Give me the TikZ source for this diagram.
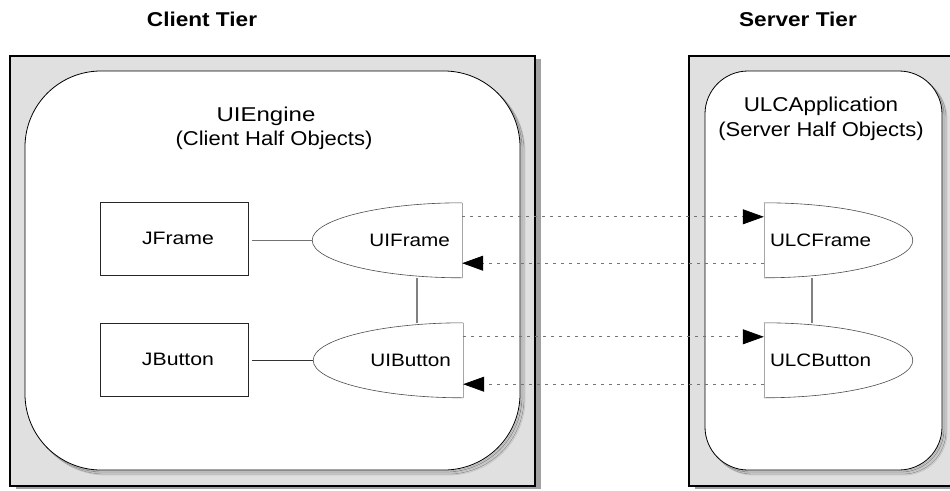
\documentclass[tikz,border=0pt]{standalone}
\usepackage{graphicx}
\usepackage{fontspec}
\setmainfont{Liberation Sans}
\usetikzlibrary{arrows.meta}

% widened lettering for the labels
\newcommand{\wtext}[2][1.1]{\scalebox{#1}[1]{#2}}

\tikzset{
  tier/.style={font=\fontsize{20}{23}\selectfont\bfseries, inner sep=0pt},
  boxtitle/.style={font=\fontsize{20}{24}\selectfont, inner sep=0pt},
  swingbox/.style={draw=black!85, line width=0.7pt, fill=white,
    minimum width=148pt, minimum height=73pt, inner sep=0pt,
    font=\fontsize{18}{22}\selectfont},
  halfleft/.style={minimum width=150pt, minimum height=75pt, inner ysep=0pt,
    inner xsep=12pt, text width=126pt, align=right,
    font=\fontsize{18}{22}\selectfont},
  halfright/.style={minimum width=149pt, minimum height=75pt, inner ysep=0pt,
    inner xsep=6pt, text width=137pt, align=left,
    font=\fontsize{18}{22}\selectfont},
  curveedge/.style={fill=white, draw=black!70, line width=0.6pt},
  flatedge/.style={draw=black!35, line width=0.6pt},
  msg/.style={black!55, line width=0.7pt, dash pattern=on 3pt off 5pt,
    -{Triangle[length=21pt, width=15pt, color=black]}},
  outerbox/.style={fill=black!12, draw=black, line width=1.4pt},
  outershadow/.style={fill=black!37},
  innerbox/.style={fill=white, draw=black, line width=0.8pt},
}

\begin{document}
\begin{tikzpicture}[x=1pt, y=-1pt]
\useasboundingbox (0,0) rectangle (950,490);

% ---- tier frames ----
\fill[outershadow] (16,59) rectangle (541,489);
\draw[outerbox] (10,56) rectangle (535,486);
\fill[outershadow] (695,59) rectangle (963,489);
\draw[outerbox] (689,56) rectangle (957,486);

% ---- rounded containers with stepped shadow ----
\foreach \d/\c in {5/black!22, 4/black!40, 3/black!25, 2/black!45, 1/black!30} {
  \draw[\c, line width=0.8pt, rounded corners=76pt] (25+\d,71+\d) rectangle (520+\d,470+\d);
  \draw[\c, line width=0.8pt, rounded corners=43pt] (705+\d,71+\d) rectangle (942+\d,470+\d);
}
\draw[innerbox, rounded corners=76pt] (25,71) rectangle (520,470);
\draw[innerbox, rounded corners=43pt] (705,71) rectangle (942,470);

% ---- titles ----
\node[tier] (clienttier) at (202,19) {\wtext[1.13]{Client Tier}};
\node[tier] (servertier) at (798,19) {\wtext[1.13]{Server Tier}};
\node[boxtitle] (uiengine) at (266,116) {\wtext[1.2]{UIEngine}};
\node[boxtitle] (clienthalf) at (274,140) {\wtext{(Client Half Objects)}};
\node[boxtitle] (ulcapp) at (821,106) {\wtext[1.12]{ULCApplication}};
\node[boxtitle] (serverhalf) at (821,131) {\wtext{(Server Half Objects)}};

% ---- Swing widgets ----
\node[swingbox] (jframe) at (174,238.5) {\hspace*{8pt}\wtext[1.18]{JFrame}};
\node[swingbox] (jbutton) at (174,359.5) {\hspace*{8pt}\wtext[1.18]{JButton}};

% ---- client half objects ----
\node[halfleft] (uiframe) at (387,240.5) {};
\node[halfleft] (uibutton) at (388,360.5) {};
\path[curveedge] (uiframe.north east) arc[start angle=90, end angle=270, x radius=150pt, y radius=37.5pt];
\draw[flatedge] (uiframe.north east) -- (uiframe.south east);
\path[curveedge] (uibutton.north east) arc[start angle=90, end angle=270, x radius=150pt, y radius=37.5pt];
\draw[flatedge] (uibutton.north east) -- (uibutton.south east);
\node[halfleft] at (uiframe) {\wtext[1.15]{UIFrame}};
\node[halfleft] at (uibutton) {\wtext[1.15]{UIButton}};

% ---- server half objects ----
\node[halfright] (ulcframe) at (838.5,240.5) {};
\node[halfright] (ulcbutton) at (838.5,360.5) {};
\path[curveedge] (ulcframe.north west) arc[start angle=90, end angle=-90, x radius=149pt, y radius=37.5pt];
\draw[flatedge] (ulcframe.north west) -- (ulcframe.south west);
\path[curveedge] (ulcbutton.north west) arc[start angle=90, end angle=-90, x radius=149pt, y radius=37.5pt];
\draw[flatedge] (ulcbutton.north west) -- (ulcbutton.south west);
\node[halfright] at (ulcframe) {\wtext[1.15]{ULCFrame}};
\node[halfright] at (ulcbutton) {\wtext[1.15]{ULCButton}};

% ---- local links ----
\draw[black!55, line width=0.7pt, shorten <=4pt] (jframe.east |- uiframe.west) -- (uiframe.west);
\draw[black!80, line width=0.7pt, shorten <=4pt] (jbutton.east |- uibutton.west) -- (uibutton.west);
\draw[black!50, line width=2pt] ([xshift=30pt]uiframe.south) -- ([xshift=30pt]uiframe.south |- uibutton.north);
\draw[black!50, line width=2pt] ([xshift=-26.5pt]ulcframe.south) -- ([xshift=-26.5pt]ulcframe.south |- ulcbutton.north);

% ---- remote messages ----
\draw[msg] ([yshift=-14pt]uiframe.north east) -- ([yshift=-14pt]ulcframe.north west);
\draw[msg] ([yshift=15pt]ulcframe.south west) -- ([yshift=15pt]uiframe.south east);
\draw[msg] ([yshift=-14pt]uibutton.north east) -- ([yshift=-14pt]ulcbutton.north west);
\draw[msg] ([yshift=14pt]ulcbutton.south west) -- ([yshift=14pt]uibutton.south east);
\end{tikzpicture}
\end{document}
